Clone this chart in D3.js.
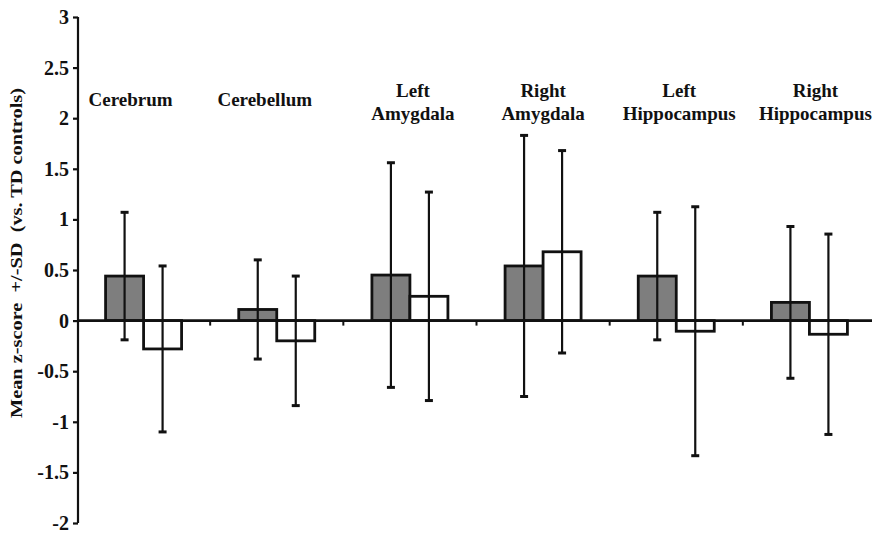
<!DOCTYPE html>
<html>
<head>
<meta charset="utf-8">
<script src="https://cdn.jsdelivr.net/npm/d3@7"></script>
<style>
  html, body { margin: 0; padding: 0; background: #fff; }
  svg { display: block; }
  text { font-family: "Liberation Serif", "Times New Roman", serif; font-weight: bold; fill: #111; }
</style>
</head>
<body>
<svg id="chart" width="872" height="535"></svg>
<script>
// ---- data ----
const categories = ["Cerebrum", "Cerebellum", "Left Amygdala", "Right Amygdala", "Left Hippocampus", "Right Hippocampus"];
const categoryLabelLines = [["Cerebrum"], ["Cerebellum"], ["Left", "Amygdala"], ["Right", "Amygdala"], ["Left", "Hippocampus"], ["Right", "Hippocampus"]];
const groupNames = ["Group A", "Group B"];
const groupAMeans = [0.44, 0.11, 0.45, 0.54, 0.44, 0.18];
const groupASD    = [0.63, 0.49, 1.11, 1.29, 0.63, 0.75];
const groupBMeans = [-0.28, -0.20, 0.24, 0.68, -0.105, -0.135];
const groupBSD    = [0.82, 0.64, 1.03, 1.00, 1.23, 0.99];
const yTickValues = [-2, -1.5, -1, -0.5, 0, 0.5, 1, 1.5, 2, 2.5, 3];
const yTickLabels = ["-2", "-1.5", "-1", "-0.5", "0", "0.5", "1", "1.5", "2", "2.5", "3"];
const yTitle = "Mean z-score  +/-SD  (vs. TD controls)";

// ---- layout ----
const svg = d3.select("#chart");
const axisX = 78;
const y = d3.scaleLinear().domain([-2, 3]).range([523, 17]);
const x0 = d3.scaleBand().domain(categories).range([77, 876]).padding(0);
const pairWidth = 76;
const x1 = d3.scaleBand().domain(groupNames).range([0, pairWidth]).padding(0);
const fills = { "Group A": "#7e7e7e", "Group B": "#ffffff" };

const rows = [];
categories.forEach((c, i) => {
  rows.push({ cat: c, g: "Group A", mean: groupAMeans[i], sd: groupASD[i] });
  rows.push({ cat: c, g: "Group B", mean: groupBMeans[i], sd: groupBSD[i] });
});
const barX = d => x0(d.cat) + (x0.bandwidth() - pairWidth) / 2 + x1(d.g);

// bars
svg.append("g").selectAll("rect").data(rows).join("rect")
  .attr("x", barX)
  .attr("width", x1.bandwidth())
  .attr("y", d => y(Math.max(0, d.mean)))
  .attr("height", d => Math.abs(y(d.mean) - y(0)))
  .attr("fill", d => fills[d.g])
  .attr("stroke", "#111")
  .attr("stroke-width", 2.8);

// zero line (x axis)
svg.append("line")
  .attr("x1", axisX).attr("x2", 872)
  .attr("y1", y(0)).attr("y2", y(0))
  .attr("stroke", "#111").attr("stroke-width", 2.8);

// x ticks at band boundaries
const boundaries = categories.slice(1).map(c => x0(c));
svg.append("g").selectAll("line").data(boundaries).join("line")
  .attr("x1", d => d).attr("x2", d => d)
  .attr("y1", y(0)).attr("y2", y(0) + 5)
  .attr("stroke", "#111").attr("stroke-width", 2);

// error bars
const eb = svg.append("g");
const capW = 8;
rows.forEach(d => {
  const cx = barX(d) + x1.bandwidth() / 2;
  const top = y(d.mean + d.sd), bot = y(d.mean - d.sd);
  eb.append("line").attr("x1", cx).attr("x2", cx).attr("y1", top).attr("y2", bot)
    .attr("stroke", "#111").attr("stroke-width", 2.2);
  [top, bot].forEach(yy => {
    eb.append("line").attr("x1", cx - capW / 2).attr("x2", cx + capW / 2)
      .attr("y1", yy).attr("y2", yy)
      .attr("stroke", "#111").attr("stroke-width", 3);
  });
});

// y axis
const yAxis = d3.axisLeft(y)
  .tickValues(yTickValues)
  .tickFormat((d, i) => yTickLabels[i])
  .tickSize(5)
  .tickPadding(4);
const yg = svg.append("g").attr("transform", `translate(${axisX},0)`).call(yAxis);
yg.attr("font-size", null).attr("font-family", null);
yg.select(".domain").attr("stroke", "#111").attr("stroke-width", 2.2).attr("d", `M0,${y(3)}V${y(-2)}`);
yg.selectAll(".tick line").attr("stroke", "#111").attr("stroke-width", 2.2);
yg.selectAll(".tick text")
  .style("font-family", '"Liberation Serif", "Times New Roman", serif')
  .style("font-weight", "bold")
  .style("font-size", "20px")
  .attr("fill", "#111");

// y title
svg.append("text")
  .attr("transform", `translate(22,253) rotate(-90)`)
  .attr("text-anchor", "middle")
  .attr("textLength", 330)
  .attr("lengthAdjust", "spacingAndGlyphs")
  .style("font-size", "17.5px")
  .style("white-space", "pre")
  .attr("xml:space", "preserve")
  .text(yTitle);

// category labels
const labelDx = [-13, -12, 3, 0, 3, 6];
categories.forEach((c, i) => {
  const lines = categoryLabelLines[i];
  const cx = x0(c) + x0.bandwidth() / 2 + labelDx[i];
  const t = svg.append("text")
    .attr("text-anchor", "middle")
    .style("font-size", "19px");
  if (lines.length === 1) {
    t.append("tspan").attr("x", cx).attr("y", 106).text(lines[0]);
  } else {
    t.append("tspan").attr("x", cx).attr("y", 97).text(lines[0]);
    t.append("tspan").attr("x", cx).attr("y", 120).text(lines[1]);
  }
});
</script>
</body>
</html>
